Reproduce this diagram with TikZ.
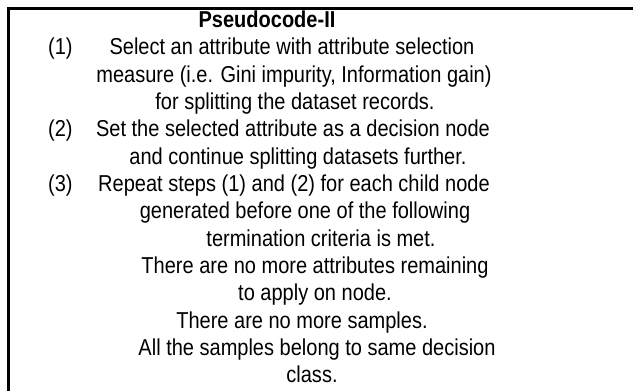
\documentclass[tikz,border=0pt]{standalone}
\usepackage{fontspec}
\setmainfont[FakeStretch=0.87]{Liberation Sans}
\begin{document}
\begin{tikzpicture}[x=1pt,y=-1pt]
    \tikzstyle{ln} = [font=\fontsize{23}{27}\selectfont,inner sep=0pt,anchor=base]
    \tikzstyle{num} = [ln,anchor=base west]
    \useasboundingbox (0,0) rectangle (633,391);
    \draw[line width=2.2pt] (8.5,391) -- (8.5,8.5) -- (633,8.5);
    \node[ln,font=\fontsize{23}{27}\selectfont\bfseries] (title) at (267,27) {Pseudocode-II};
    \node[num] (n1) at (48,54) {(1)};
    \node[num] (n2) at (48,136) {(2)};
    \node[num] (n3) at (48,191) {(3)};
    \node[ln] (l1) at (292,54) {Select an attribute with attribute selection};
    \node[ln] (l2) at (294,82) {measure (i.e. Gini impurity, Information gain)};
    \node[ln] (l3) at (295,109) {for splitting the dataset records.};
    \node[ln] (l4) at (293,136) {Set the selected attribute as a decision node};
    \node[ln] (l5) at (298,164) {and continue splitting datasets further.};
    \node[ln] (l6) at (294,191) {Repeat steps (1) and (2) for each child node};
    \node[ln] (l7) at (305,218) {generated before one of the following};
    \node[ln] (l8) at (321,246) {termination criteria is met.};
    \node[ln] (l9) at (315,273) {There are no more attributes remaining};
    \node[ln] (l10) at (315,300) {to apply on node.};
    \node[ln] (l11) at (302,328) {There are no more samples.};
    \node[ln] (l12) at (317,355) {All the samples belong to same decision};
    \node[ln] (l13) at (312,382) {class.};
\end{tikzpicture}
\end{document}
